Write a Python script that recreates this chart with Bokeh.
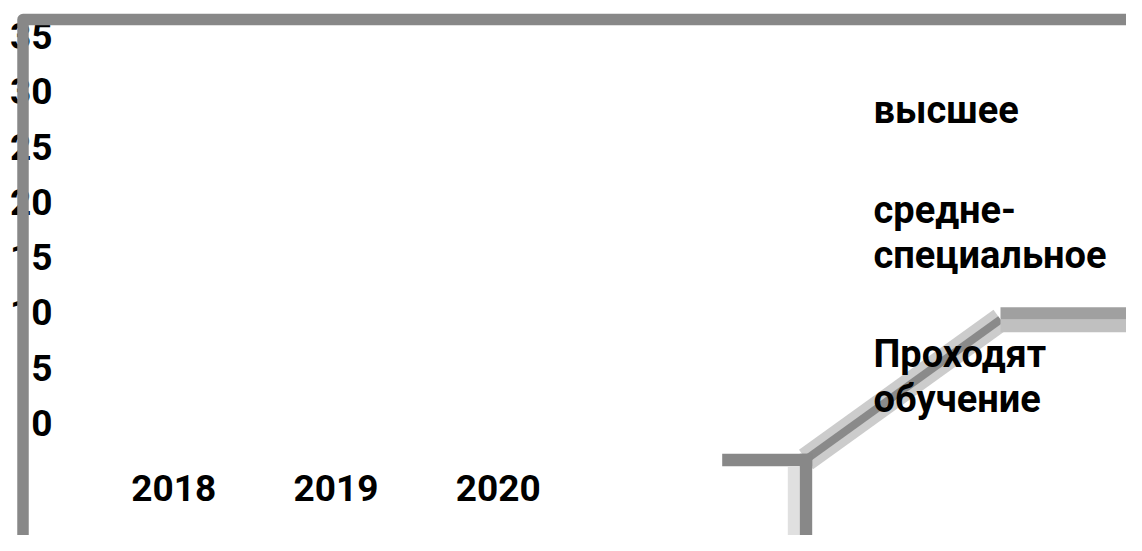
from bokeh.plotting import figure
from bokeh.models import Range1d, ColumnDataSource
from bokeh.core.properties import value
from bokeh.embed import file_html
from bokeh.resources import INLINE

# ---------------- data (as shown in the picture) ----------------
categories = ["2018", "2019", "2020"]
series_names = ["высшее", "средне-специальное", "Проходят обучение"]
y_ticks = [0, 5, 10, 15, 20, 25, 30, 35]
# The reference shows no visible bars for any series.

# ---------------- layout ----------------
W, H = 1126, 535
X0, XS = 92.2, 162.2      # px of x=0, px per category
Y0, YS = 422.5, 11.057    # px of y=0, px per unit


def px(x):
    return (x - X0) / XS


def py(y):
    return (Y0 - y) / YS


p = figure(width=W, height=H,
           x_range=Range1d(px(0), px(W)),
           y_range=Range1d(py(H), py(0)),
           output_backend="svg", toolbar_location=None,
           x_axis_location=None, y_axis_location=None,
           min_border=0)
p.grid.visible = False
p.outline_line_color = None
p.background_fill_color = "white"
p.border_fill_color = "white"

FONT = value("Roboto")

# ---------------- decorative broken 3D frame pieces ----------------
GRAY = "#888888"
# diagonal band
p.line([px(805.5), px(1000)], [py(459), py(319)], line_width=24, color="#cccccc")
p.line([px(805.5), px(1000)], [py(459), py(319)], line_width=8, color="#8a8a8a")
# top-right double bar
p.line([px(1000), px(1160)], [py(313), py(313)], line_width=12.3, color="#a0a0a0")
p.line([px(1000), px(1160)], [py(325.3), py(325.3)], line_width=12.7, color="#c0c0c0")
# bottom-left corner
p.line([px(721.7), px(811.7)], [py(459.5), py(459.5)], line_width=12.4, color=GRAY)
p.line([px(793.3), px(793.3)], [py(465.7), py(570)], line_width=12, color="#e0e0e0")
p.line([px(805.5), px(805.5)], [py(453.3), py(570)], line_width=12.4, color=GRAY)

# ---------------- y tick labels ----------------
ysrc = ColumnDataSource(dict(x=[px(52)] * len(y_ticks), y=y_ticks,
                             t=[str(v) for v in y_ticks]))
p.text(x="x", y="y", text="t", source=ysrc, text_font=FONT, text_font_size="37px",
       text_font_style="bold", text_color="black", text_align="right",
       text_baseline="middle")

# ---------------- category labels ----------------
xsrc = ColumnDataSource(dict(x=[i + 0.5 for i in range(len(categories))],
                             y=[py(487)] * len(categories), t=categories))
p.text(x="x", y="y", text="t", source=xsrc, text_font=FONT, text_font_size="37px",
       text_font_style="bold", text_color="black", text_align="center",
       text_baseline="middle")


# ---------------- legend texts ----------------
def wrap(name):
    if "-" in name:
        a, b = name.split("-", 1)
        return [a + "-", b]
    if " " in name:
        return name.split(" ", 1)
    return [name]


first_mid = [109, 209, 353.7]
LINE = 45
lx, ly, lt = [], [], []
for name, m in zip(series_names, first_mid):
    for k, line in enumerate(wrap(name)):
        lx.append(px(873))
        ly.append(py(m + k * LINE))
        lt.append(line)
lsrc = ColumnDataSource(dict(x=lx, y=ly, t=lt))
p.text(x="x", y="y", text="t", source=lsrc, text_font=FONT, text_font_size="38px",
       text_font_style="bold", text_color="black", text_align="left",
       text_baseline="middle")

# ---------------- outer frame (drawn over the tick labels) ----------------
p.line([px(1160), px(22.5), px(22.5)], [py(19), py(19), py(570)],
       line_width=11.5, color=GRAY, line_join="round")

open("out.html", "w").write(file_html(p, INLINE))
